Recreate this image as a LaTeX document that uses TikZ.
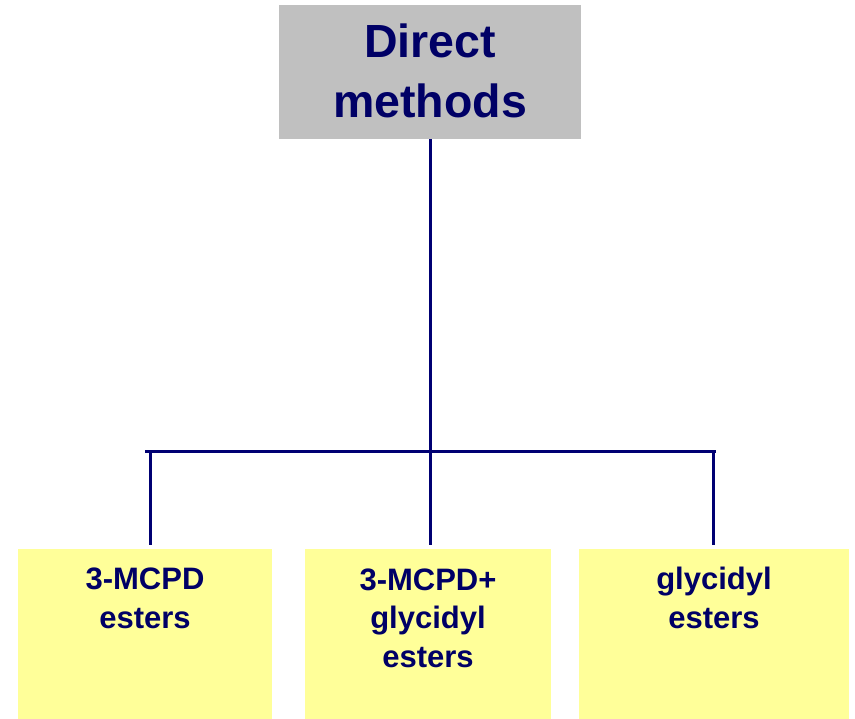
\documentclass[tikz,border=0pt]{standalone}
\usepackage{fontspec}
\setmainfont{Liberation Sans}
\definecolor{navytext}{RGB}{0,0,102}
\definecolor{navyline}{RGB}{0,0,115}
\definecolor{topgray}{RGB}{192,192,192}
\definecolor{boxyellow}{RGB}{255,255,153}
\begin{document}
\begin{tikzpicture}[x=1pt,y=-1pt,
  topbox/.style={rectangle,fill=topgray,draw=none,inner sep=0pt,anchor=north west},
  leafbox/.style={rectangle,fill=boxyellow,draw=none,inner sep=0pt,anchor=north west,minimum height=170pt},
  toptext/.style={text=navytext,font=\fontsize{46.5}{60}\selectfont\bfseries,align=center,inner sep=0pt,anchor=base},
  leaftext/.style={text=navytext,font=\fontsize{31}{38.5}\selectfont\bfseries,align=center,inner sep=0pt,anchor=base},
  conn/.style={draw=navyline,line width=3pt}]
\useasboundingbox (0,0) rectangle (855,719);
\node[topbox,minimum width=302pt,minimum height=134pt] (top) at (279,5) {};
\node[leafbox,minimum width=254pt] (b1) at (18,549) {};
\node[leafbox,minimum width=246pt] (b2) at (305,549) {};
\node[leafbox,minimum width=270pt] (b3) at (579,549) {};
\coordinate (busL) at (145,452);
\coordinate (busM) at (430,452);
\coordinate (busR) at (716,452);
\coordinate (j1) at (150,452);
\coordinate (j3) at (713,452);
\draw[conn] (top.south -| busM) -- (busM);
\draw[conn] (busL) -- (busR);
\draw[conn,shorten >=4pt] (j1) -- (j1 |- b1.north);
\draw[conn,shorten >=4pt] (busM) -- (busM |- b2.north);
\draw[conn,shorten >=4pt] (j3) -- (j3 |- b3.north);
\node[toptext] (toplabel) at (430,118) {Direct\\methods};
\node[leaftext] (t1) at (145,628) {3-MCPD\\esters};
\node[leaftext] (t2) at (428,667) {3-MCPD+\\glycidyl\\esters};
\node[leaftext] (t3) at (714,628) {glycidyl\\esters};
\end{tikzpicture}
\end{document}
